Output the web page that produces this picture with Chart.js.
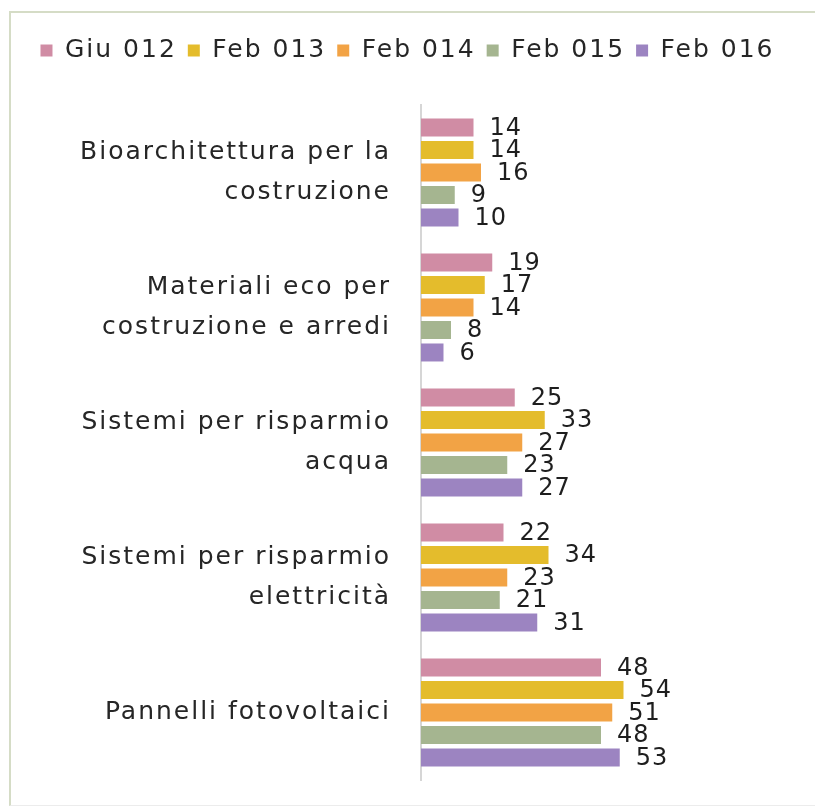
<!DOCTYPE html>
<html>
<head>
<meta charset="utf-8">
<script src="https://cdn.jsdelivr.net/npm/chart.js@4.4.0/dist/chart.umd.min.js"></script>
<style>
  html, body { margin: 0; padding: 0; background: #fff; }
  #wrap { position: relative; width: 815px; height: 806px; overflow: hidden; }
  #frame { position: absolute; left: 9px; top: 11px; width: 820px; height: 792px;
           border-left: 2px solid #d5dcc6; border-top: 2px solid #d5dcc6; border-bottom: 1px solid #ececec; }
  canvas { position: absolute; left: 0; top: 0; }
</style>
</head>
<body>
<div id="wrap">
  <div id="frame"></div>
  <canvas id="chart" width="815" height="806"></canvas>
</div>
<script>
const categories = [
    ['Bioarchitettura per la', 'costruzione'],
    ['Materiali eco per', 'costruzione e arredi'],
    ['Sistemi per risparmio', 'acqua'],
    ['Sistemi per risparmio', 'elettricità'],
    'Pannelli fotovoltaici'
];
const seriesNames = ['Giu 012', 'Feb 013', 'Feb 014', 'Feb 015', 'Feb 016'];
const giu012 = [14, 19, 25, 22, 48];
const feb013 = [14, 17, 33, 34, 54];
const feb014 = [16, 14, 27, 23, 51];
const feb015 = [9, 8, 23, 21, 48];
const feb016 = [10, 6, 27, 31, 53];
const colors = ['#d08ca4', '#e4bc2c', '#f2a345', '#a5b590', '#9c84c1'];

const FONT = "'DejaVu Sans', sans-serif";
const SPACING = '2px'; // the original font is much wider than DejaVu
const allSeries = [giu012, feb013, feb014, feb015, feb016];

// widen the text a bit, both for measuring and drawing
const spacing = {
    id: 'spacing',
    beforeUpdate(chart) { chart.ctx.letterSpacing = SPACING; },
    beforeDraw(chart) { chart.ctx.letterSpacing = SPACING; }
};

// value labels at the end of each bar
const valueLabels = {
    id: 'valueLabels',
    afterDatasetsDraw(chart) {
        const ctx = chart.ctx;
        ctx.save();
        ctx.letterSpacing = '1px';
        ctx.font = '24px ' + FONT;
        ctx.fillStyle = '#1e1e1e';
        ctx.textAlign = 'left';
        ctx.textBaseline = 'middle';
        chart.data.datasets.forEach((ds, i) => {
            chart.getDatasetMeta(i).data.forEach((bar, j) => {
                ctx.fillText(ds.data[j], bar.x + 16, bar.y + 1);
            });
        });
        ctx.restore();
    }
};

// push the plot down below the legend
const legendGap = {
    id: 'legendGap',
    beforeInit(chart) {
        const fit = chart.legend.fit;
        chart.legend.fit = function () {
            fit.bind(chart.legend)();
            this.height += 32;
        };
    }
};

new Chart(document.getElementById('chart'), {
    type: 'bar',
    data: {
        labels: categories,
        datasets: allSeries.map((d, i) => ({
            label: seriesNames[i],
            data: d,
            backgroundColor: colors[i],
            borderWidth: 0,
            categoryPercentage: 0.833,
            barPercentage: 0.8
        }))
    },
    options: {
        indexAxis: 'y',
        responsive: false,
        animation: false,
        layout: { padding: { top: 27, bottom: 26, left: 19, right: 19 } },
        plugins: {
            legend: {
                position: 'top',
                labels: {
                    font: { family: FONT, size: 25 },
                    color: '#262626',
                    boxWidth: 12,
                    boxHeight: 12,
                    padding: 11
                }
            },
            tooltip: { enabled: false }
        },
        scales: {
            x: { display: false, min: 0, max: 100 },
            y: {
                grid: { display: false },
                border: { display: true, color: '#d6d6d6', width: 2 },
                ticks: {
                    font: { family: FONT, size: 25, lineHeight: 1.6 },
                    color: '#262626',
                    padding: 22
                },
                afterFit(scale) {
                    scale.width = 402;
                    scale.paddingTop = 0;
                    scale.paddingBottom = 0;
                }
            }
        }
    },
    plugins: [spacing, valueLabels, legendGap]
});
</script>
</body>
</html>
